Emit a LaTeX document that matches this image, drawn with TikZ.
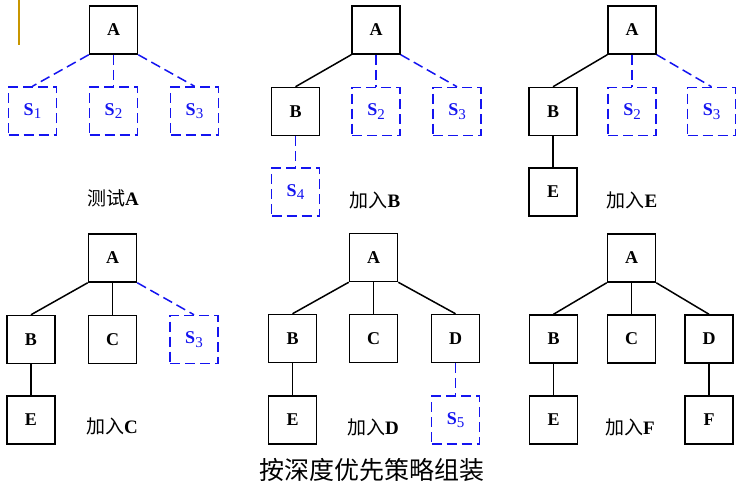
\documentclass[tikz,border=0pt]{standalone}
\usepackage{fontspec}
\setmainfont{Liberation Serif}
\newfontfamily\cjk{Noto Sans CJK SC}
\definecolor{sblue}{RGB}{20,20,240}
\definecolor{goldbar}{RGB}{200,150,0}
\tikzset{
  box/.style={draw=black, line width=1.5pt, minimum width=48pt, minimum height=48pt, inner sep=0pt,
    font=\fontsize{18}{20}\selectfont\bfseries},
  sbox/.style={draw=sblue, text=sblue, line width=1.5pt, dash pattern=on 10pt off 5pt, minimum width=48pt,
    minimum height=48pt, inner sep=0pt, font=\fontsize{18}{20}\selectfont\bfseries},
  edge/.style={draw=black, line width=1.5pt},
  sedge/.style={draw=sblue, line width=1.5pt, dash pattern=on 10pt off 5pt},
  lab/.style={font=\fontsize{19}{21}\selectfont, inner sep=0pt},
}
\newcommand{\sub}[1]{S\raisebox{-3.5pt}{\fontsize{15}{15}\selectfont\mdseries #1}}
\newcommand{\lbl}[1]{{\cjk #1}}
\begin{document}
\begin{tikzpicture}[x=1pt,y=-1pt]
\useasboundingbox (0,0) rectangle (746,487);
\draw[goldbar, line width=2pt] (19,0) coordinate (g1) -- (19,45) coordinate (g2);
% Panel 1
\node[box] (a1) at (113.5,30) {A};
\node[sbox] (s11) at (32.5,111) {\sub{1}};
\node[sbox] (s12) at (113.5,111) {\sub{2}};
\node[sbox] (s13) at (194.5,111) {\sub{3}};
\draw[sedge] (a1.south west) -- (s11.north);
\draw[sedge] (a1.south) -- (s12.north);
\draw[sedge] (a1.south east) -- (s13.north);
\node[lab] (l1) at (113,198) {\lbl{测试}\textbf{A}};
% Panel 2
\node[box] (a2) at (376,30) {A};
\node[box] (b2) at (295.5,111.5) {B};
\node[sbox] (s22) at (376,111.5) {\sub{2}};
\node[sbox] (s23) at (457,111.5) {\sub{3}};
\node[sbox] (s24) at (295.5,192) {\sub{4}};
\draw[edge] (a2.south west) -- (b2.north);
\draw[sedge] (a2.south) -- (s22.north);
\draw[sedge] (a2.south east) -- (s23.north);
\draw[sedge] (b2.south) -- (s24.north);
\node[lab] (l2) at (375,200) {\lbl{加入}\textbf{B}};
% Panel 3
\node[box] (a3) at (632,30) {A};
\node[box] (b3) at (553,111.5) {B};
\node[sbox] (s32) at (632,111.5) {\sub{2}};
\node[sbox] (s33) at (711.5,111.5) {\sub{3}};
\node[box] (e3) at (553,192) {E};
\draw[edge] (a3.south west) -- (b3.north);
\draw[sedge] (a3.south) -- (s32.north);
\draw[sedge] (a3.south east) -- (s33.north);
\draw[edge] (b3.south) -- (e3.north);
\node[lab] (l3) at (632,200) {\lbl{加入}\textbf{E}};
% Panel 4
\node[box] (a4) at (112.5,258) {A};
\node[box] (b4) at (31,339.5) {B};
\node[box] (c4) at (112.5,339.5) {C};
\node[sbox] (s43) at (194,339.5) {\sub{3}};
\node[box] (e4) at (31,420) {E};
\draw[edge] (a4.south west) -- (b4.north);
\draw[edge] (a4.south) -- (c4.north);
\draw[sedge] (a4.south east) -- (s43.north);
\draw[edge] (b4.south) -- (e4.north);
\node[lab] (l4) at (112,426) {\lbl{加入}\textbf{C}};
% Panel 5
\node[box] (a5) at (373.5,257.5) {A};
\node[box] (b5) at (292.5,338.5) {B};
\node[box] (c5) at (373.5,338.5) {C};
\node[box] (d5) at (455.5,338.5) {D};
\node[box] (e5) at (292.5,420) {E};
\node[sbox] (s55) at (455.5,420) {\sub{5}};
\draw[edge] (a5.south west) -- (b5.north);
\draw[edge] (a5.south) -- (c5.north);
\draw[edge] (a5.south east) -- (d5.north);
\draw[edge] (b5.south) -- (e5.north);
\draw[sedge] (d5.south) -- (s55.north);
\node[lab] (l5) at (373,427) {\lbl{加入}\textbf{D}};
% Panel 6
\node[box] (a6) at (631.5,258) {A};
\node[box] (b6) at (553.5,339) {B};
\node[box] (c6) at (631.5,339) {C};
\node[box] (d6) at (709,339) {D};
\node[box] (e6) at (553.5,420) {E};
\node[box] (f6) at (709,420) {F};
\draw[edge] (a6.south west) -- (b6.north);
\draw[edge] (a6.south) -- (c6.north);
\draw[edge] (a6.south east) -- (d6.north);
\draw[edge] (b6.south) -- (e6.north);
\draw[edge] (d6.south) -- (f6.north);
\node[lab] (l6) at (630,427) {\lbl{加入}\textbf{F}};
% Title
\node[font=\fontsize{25}{27}\selectfont\cjk, inner sep=0pt] (title) at (372,470) {按深度优先策略组装};
\end{tikzpicture}
\end{document}
